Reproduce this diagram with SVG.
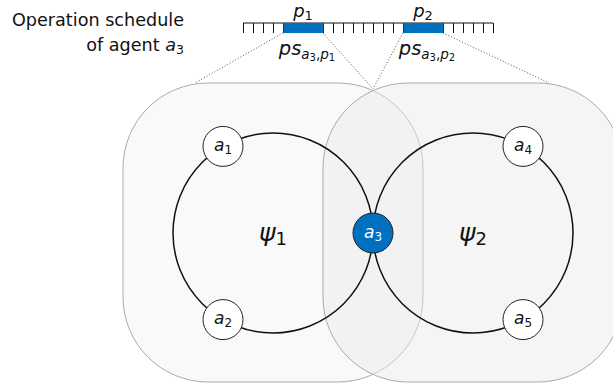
<svg xmlns="http://www.w3.org/2000/svg" width="613" height="385" viewBox="0 0 613 385">
<style>
text{font-family:"DejaVu Sans","Liberation Sans",sans-serif;fill:#111}
.it{font-style:italic}
.region{stroke:#aaa;stroke-width:1}
.ring{fill:none;stroke:#111;stroke-width:1.5}
.node{fill:#fff;stroke:#222;stroke-width:1}
.hub{fill:#0070c0;stroke:#222;stroke-width:1}
.lbl{font-size:17px;text-anchor:middle}
.dot{stroke:#555;stroke-width:1;stroke-dasharray:1 2;fill:none}
.bar{fill:#0070c0}
</style>
<rect width="613" height="385" fill="#fff"/>
<g id="region1"><rect class="region" x="123" y="83" width="300" height="299" rx="85" fill="#f9f9f9"/></g>
<g id="region2"><rect class="region" x="323" y="83" width="300" height="299" rx="85" fill="#e8e8e8" fill-opacity="0.45"/></g>
<g id="connectors">
<circle class="ring" cx="273" cy="233" r="100"/>
<circle class="ring" cx="473" cy="233" r="100"/>
<path class="dot" d="M283,33 L195,83 M323,33 L373,89 M403,33 L373,89 M443,33 L549,83"/>
</g>
<g id="schedule">
<line x1="243" y1="23" x2="493" y2="23" stroke="#111" stroke-width="1"/>
<path stroke="#111" stroke-width="1" fill="none" d="M243.5,23V33M253.5,23V33M263.5,23V33M273.5,23V33M283.5,23V33M323.5,23V33M333.5,23V33M343.5,23V33M353.5,23V33M363.5,23V33M373.5,23V33M383.5,23V33M393.5,23V33M403.5,23V33M443.5,23V33M453.5,23V33M463.5,23V33M473.5,23V33M483.5,23V33M493.5,23V33"/>
<rect class="bar" x="283.5" y="23" width="40" height="10"/>
<rect class="bar" x="403.5" y="23" width="40" height="10"/>
<text x="303" y="17" style="font-size:18px;text-anchor:middle"><tspan class="it">p</tspan><tspan dy="3" style="font-size:13px">1</tspan></text>
<text x="423" y="17" style="font-size:18px;text-anchor:middle"><tspan class="it">p</tspan><tspan dy="3" style="font-size:13px">2</tspan></text>
<text x="307" y="55" style="font-size:19.5px;text-anchor:middle"><tspan class="it">ps</tspan><tspan class="it" dy="4" style="font-size:13.5px">a</tspan><tspan dy="2" style="font-size:10px">3</tspan><tspan dy="-2" style="font-size:13.5px">,</tspan><tspan class="it" style="font-size:13.5px">p</tspan><tspan dy="2" style="font-size:10px">1</tspan></text>
<text x="427" y="55" style="font-size:19.5px;text-anchor:middle"><tspan class="it">ps</tspan><tspan class="it" dy="4" style="font-size:13.5px">a</tspan><tspan dy="2" style="font-size:10px">3</tspan><tspan dy="-2" style="font-size:13.5px">,</tspan><tspan class="it" style="font-size:13.5px">p</tspan><tspan dy="2" style="font-size:10px">2</tspan></text>
<text x="184" y="26" style="font-size:17.6px;text-anchor:end">Operation schedule</text>
<text x="184" y="51" style="font-size:17.6px;text-anchor:end">of agent <tspan class="it">a</tspan><tspan dy="3" style="font-size:12.5px">3</tspan></text>
</g>
<g id="psi1"><text x="273" y="241" style="font-size:25px;text-anchor:middle"><tspan class="it">ψ</tspan><tspan dy="4" style="font-size:18px">1</tspan></text></g>
<g id="psi2"><text x="473" y="241" style="font-size:25px;text-anchor:middle"><tspan class="it">ψ</tspan><tspan dy="4" style="font-size:18px">2</tspan></text></g>
<g id="a1"><circle class="node" cx="223" cy="146.4" r="20"/><text class="lbl" x="223" y="151"><tspan class="it">a</tspan><tspan dy="3" style="font-size:12px">1</tspan></text></g>
<g id="a2"><circle class="node" cx="223" cy="319.6" r="20"/><text class="lbl" x="223" y="324"><tspan class="it">a</tspan><tspan dy="3" style="font-size:12px">2</tspan></text></g>
<g id="a4"><circle class="node" cx="523" cy="146.4" r="20"/><text class="lbl" x="523" y="151"><tspan class="it">a</tspan><tspan dy="3" style="font-size:12px">4</tspan></text></g>
<g id="a5"><circle class="node" cx="523" cy="319.6" r="20"/><text class="lbl" x="523" y="324"><tspan class="it">a</tspan><tspan dy="3" style="font-size:12px">5</tspan></text></g>
<g id="a3"><circle class="hub" cx="373" cy="233" r="20"/><text class="lbl" x="373" y="238" style="fill:#fff"><tspan class="it">a</tspan><tspan dy="3" style="font-size:12px">3</tspan></text></g>
</svg>
